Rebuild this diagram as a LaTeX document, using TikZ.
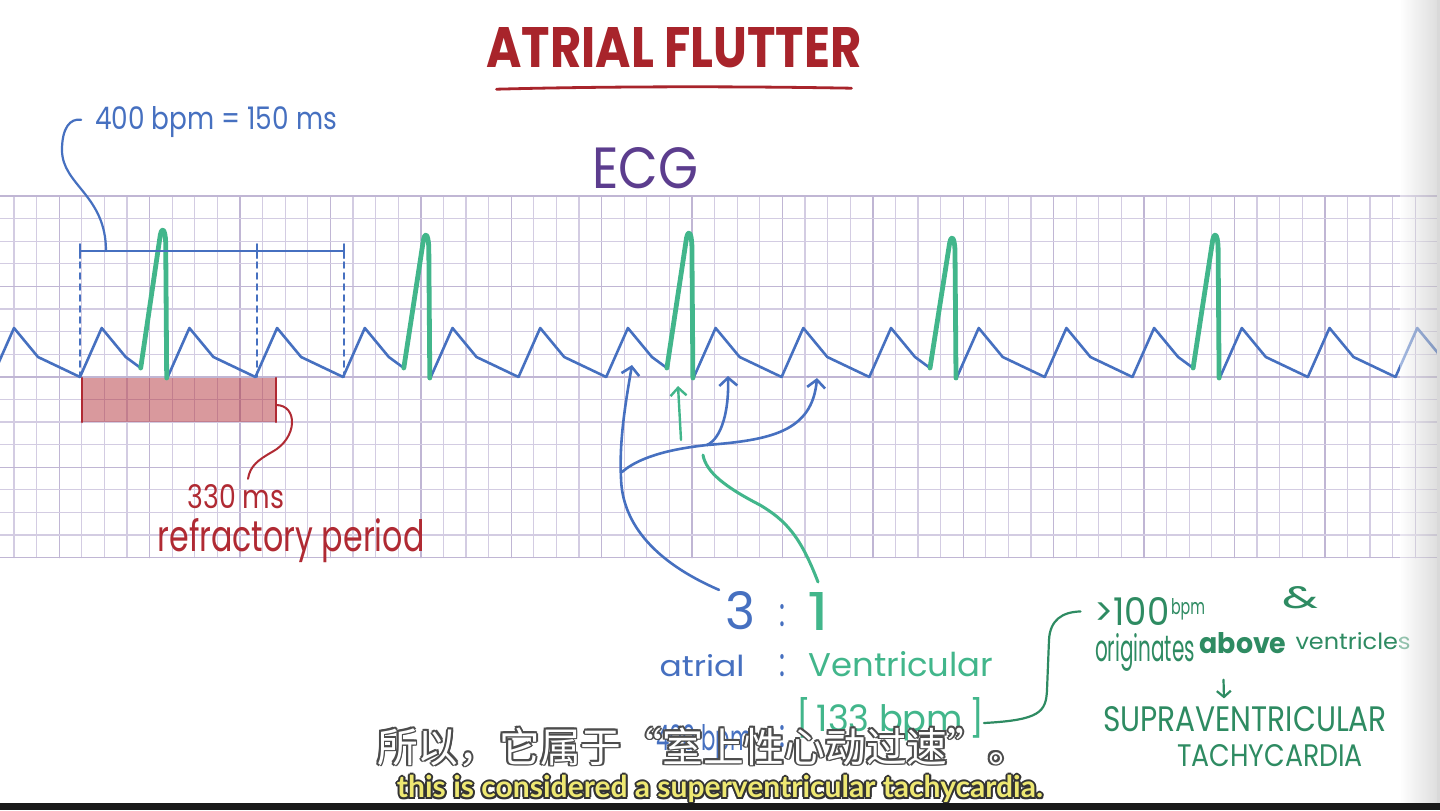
\documentclass[tikz,border=0pt]{standalone}
\usepackage{fontspec}
\usepackage{graphicx}
\usepackage{xcolor}
\setmainfont{Poppins}
\newfontfamily\cjk{Noto Sans CJK SC}
\newfontfamily\subfont{Lato}
\usetikzlibrary{positioning}
\usetikzlibrary{calc}
\usetikzlibrary{arrows.meta}
\definecolor{gridline}{HTML}{D3CCE2}
\definecolor{gridbold}{HTML}{C0B6D4}
\definecolor{flutterblue}{HTML}{4670C0}
\definecolor{qrsgreen}{HTML}{42B68B}
\definecolor{notegreen}{HTML}{2E8B62}
\definecolor{titlered}{HTML}{A8242B}
\definecolor{refred}{HTML}{B02A33}
\definecolor{ecgpurple}{HTML}{5C3D8E}
\definecolor{subyellow}{HTML}{EEE872}
\newlength{\haloW}\setlength{\haloW}{0.9pt}
\newcommand{\halo}[3]{%
	\leavevmode
	\rlap{\color{#2}\kern-\haloW #3}%
	\rlap{\color{#2}\kern\haloW #3}%
	\rlap{\color{#2}\raisebox{\haloW}{#3}}%
	\rlap{\color{#2}\raisebox{-\haloW}{#3}}%
	\rlap{\color{#2}\kern.7\haloW\raisebox{.7\haloW}{#3}}%
	\rlap{\color{#2}\kern-.7\haloW\raisebox{.7\haloW}{#3}}%
	\rlap{\color{#2}\kern.7\haloW\raisebox{-.7\haloW}{#3}}%
	\rlap{\color{#2}\kern-.7\haloW\raisebox{-.7\haloW}{#3}}%
	{\color{#1}#3}}
\tikzset{
	gridminor/.style={draw=gridline, line width=0.6pt},
	gridmajor/.style={draw=gridbold, line width=0.7pt},
	flutter/.style={draw=flutterblue, line width=1.3pt},
	qrs/.style={draw=qrsgreen, line width=2.4pt},
	bluearrow/.style={draw=flutterblue, line width=1.3pt, -{Straight Barb[length=4pt,width=9pt]}},
	greenarrow/.style={draw=qrsgreen, line width=1.2pt, -{Straight Barb[length=4pt,width=8pt]}},
	greenline/.style={draw=notegreen, line width=1.1pt},
	handtext/.style={inner sep=0pt, outer sep=0pt},
}

\begin{document}
\begin{tikzpicture}[x=0.5pt, y=-0.5pt, line cap=round, line join=round]
	\useasboundingbox (0,0) rectangle (1440,810);
	\fill[white] (0,0) rectangle (1440,810);
	
	% Grid paper
	\foreach \k in {0,...,63}
		\draw[gridminor] ({14+22.6*\k},196) -- ({14+22.6*\k},557.6);
	\foreach \k in {2,6,...,62}
		\draw[gridmajor] ({14+22.6*\k},196) -- ({14+22.6*\k},557.6);
	\foreach \r in {0,...,16}
		\draw[gridminor] (0,{196+22.6*\r}) -- (1440,{196+22.6*\r});
	\foreach \r in {0,4,...,16}
		\draw[gridmajor] (0,{196+22.6*\r}) -- (1440,{196+22.6*\r});
	
	% Refractory period
	\fill[refred, opacity=0.48] (82,378) rectangle (276,422);
	\draw[refred, line width=1.3pt] (82,378) -- (82,422);
	\draw[refred, line width=1.1pt] (276,378) coordinate (rbtop) -- (276,422);
	
	% Flutter waves
	\begin{scope}
		\clip (0,0) rectangle (1440,810);
		\foreach \k in {-1,0,2,3,5,6,8,9,11,12,14,15,16}{
			\pgfmathsetmacro{\p}{14+87.7*\k}
			\draw[flutter] ({\p-21.7},377) -- (\p,328) -- ({\p+24},357) -- ({\p+66},377);
		}
		% conducted beats
		\foreach \k/\h in {1/229,4/234,7/232,10/237,13/234}{
			\pgfmathsetmacro{\p}{14+87.7*\k}
			\draw[flutter] ({\p-21.7},377) -- (\p,328) -- ({\p+24},357) -- ({\p+39},368);
			\draw[qrs] ({\p+39},368) -- ({\p+58},{\h+10}) .. controls ({\p+59.5},{\h-3}) and ({\p+63.5},{\h-2}) .. ({\p+64},{\h+14}) -- ({\p+65},378);
		}
	\end{scope}
	
	% 150 ms bar
	\coordinate (m0) at (80,251);
	\coordinate (m1) at (257,251);
	\coordinate (m2) at (344,251);
	\coordinate (barhook) at (106,251);
	\draw[flutter, line width=1pt] (m0) -- (m2);
	\foreach \c in {m0,m1,m2}
		\draw[flutter, line width=1pt] ([yshift=-3.5pt]\c) -- ([yshift=3.5pt]\c);
	\foreach \x in {80,257,344}
		\draw[flutter, line width=0.9pt, dash pattern=on 3pt off 2.5pt] (\x,251) -- (\x,377);
	\node[handtext, text=flutterblue] (rate) at (216,122) {\resizebox{121pt}{11.5pt}{400 bpm = 150 ms}};
	\draw[flutter, line width=1.1pt, shorten >=7pt] (barhook) .. controls (106,195) and (62,185) .. (62,150) .. controls (62,128) and (70,118) .. (rate.west);
	
	% Title
	\node[handtext, text=titlered] (title) at (674,48) {\resizebox{187.5pt}{20pt}{\bfseries ATRIAL FLUTTER}};
	\draw[titlered, line width=1.4pt] ($(title.south west)+(10,21)$) .. controls ($(title.south west)+(120,18)$) and ($(title.south east)+(-120,18)$) .. ($(title.south east)+(-10,20)$);
	\node[handtext, text=ecgpurple] (ecg) at (645,168) {\resizebox{53pt}{20.5pt}{ECG}};
	
	% Refractory label
	\node[handtext, text=refred] (refms) at (236,497) {\resizebox{48.5pt}{12pt}{330 ms}};
	\node[handtext, text=refred] (refper) at (291,541) {\resizebox{133.5pt}{16.5pt}{refractory period}};
	\draw[refred, line width=1pt] (rbtop) ++(0,27) .. controls (298,405) and (298,438) .. (272,452) .. controls (258,460) and (250,466) .. ([xshift=6pt, yshift=3pt]refms.north);
	
	% Ratio
	\node[handtext, text=flutterblue] (three) at (740,611) {\resizebox{15pt}{19pt}{3}};
	\node[handtext, text=flutterblue] (cola) at (782,616) {\resizebox{3pt}{11pt}{:}};
	\node[handtext, text=qrsgreen] (one) at (818,611) {\resizebox{11pt}{19pt}{1}};
	\node[handtext, text=flutterblue] (atrial) at (702,666) {\resizebox{42.5pt}{11pt}{atrial}};
	\node[handtext, text=flutterblue] (colb) at (782,666) {\resizebox{3pt}{11pt}{:}};
	\node[handtext, text=qrsgreen] (vent) at (901,664) {\resizebox{92.5pt}{12.5pt}{Ventricular}};
	\node[handtext, text=flutterblue] (atrate) at (704,742) {\resizebox{48pt}{13pt}{400 bpm}};
	\node[handtext, text=flutterblue] (colc) at (782,737) {\resizebox{3pt}{11pt}{:}};
	\node[handtext, text=qrsgreen] (ventrate) at (890,719) {\resizebox{94pt}{17pt}{[\,133 bpm\,]}};
	
	% Arrows to the waves
	\coordinate (tip1) at (632,365);
	\coordinate (tip2) at (728,376);
	\coordinate (tip3) at (817,378);
	\coordinate (tipg) at (678,386);
	\coordinate (fork) at (621,478);
	\coordinate (split) at (707,445);
	\coordinate (gtail) at (681,440);
	\coordinate (gcurve) at (703,455);
	\draw[bluearrow] ([xshift=-3pt,yshift=1pt]three.north west) .. controls (650,560) and (622,520) .. (fork) .. controls (619,440) and (626,400) .. (tip1);
	\draw[flutter] (622,472) .. controls (645,452) and (690,447) .. (split);
	\draw[bluearrow] (split) .. controls (722,438) and (729,410) .. (tip2);
	\draw[bluearrow] (split) .. controls (770,440) and (812,432) .. (tip3);
	\draw[greenarrow] (gtail) -- (tipg);
	\draw[qrsgreen, line width=1.5pt] ([yshift=5pt]one.north) .. controls (800,535) and (785,520) .. (760,505) .. controls (725,487) and (706,472) .. (gcurve);
	
	% Right-hand notes
	\node[handtext, text=notegreen] (gt) at (1132,611) {\resizebox{37.5pt}{14pt}{>100}};
	\node[handtext, text=notegreen] (bpm) at (1188,609) {\resizebox{17pt}{8pt}{bpm}};
	\node[handtext, text=notegreen] (amp) at (1300,598) {\resizebox{18pt}{11pt}{\&}};
	\node[handtext, text=notegreen] (orig) at (1145,652) {\resizebox{50pt}{14pt}{originates}};
	\node[handtext, text=notegreen] (above) at (1243,643) {\resizebox{43.5pt}{10.5pt}{\bfseries above}};
	\node[handtext, text=notegreen] (ventr) at (1353,641) {\resizebox{57.5pt}{8.5pt}{ventricles}};
	\node[handtext, text=notegreen] (supra) at (1245,719) {\resizebox{142pt}{12.5pt}{SUPRAVENTRICULAR}};
	\node[handtext, text=notegreen] (tachy) at (1270,756) {\resizebox{93pt}{11pt}{TACHYCARDIA}};
	\draw[greenline, -{Straight Barb[length=3pt,width=7pt]}] ($(above.south west)+(24,26)$) -- ($(supra.north)+(-21,-8)$);
	\draw[greenline, shorten >=7pt] ([yshift=-2pt]ventrate.east) .. controls (1040,720) and (1046,712) .. (1047,690) -- (1049,640) .. controls (1050,620) and (1062,612) .. (gt.west);
	
	% Subtitles
	\node[handtext] (subzh) at (703,747) {\resizebox{326pt}{!}{\fontsize{20pt}{24pt}\selectfont\halo{white}{black!70}{\cjk 所以，它属于“室上性心动过速”。}}};
	\node[handtext] (suben) at (720,789) {\resizebox{323pt}{!}{\fontsize{13pt}{16pt}\selectfont\halo{subyellow}{black!80}{\subfont\bfseries this is considered a superventricular tachycardia.}}};
	
	% Page edge
	\shade[left color=white, right color=black!25, opacity=0.5] (1400,0) rectangle (1437,803);
	\fill[black!15] (1437,0) rectangle (1440,803);
	\fill[black!90] (0,803) rectangle (1440,810);
\end{tikzpicture}
\end{document}
